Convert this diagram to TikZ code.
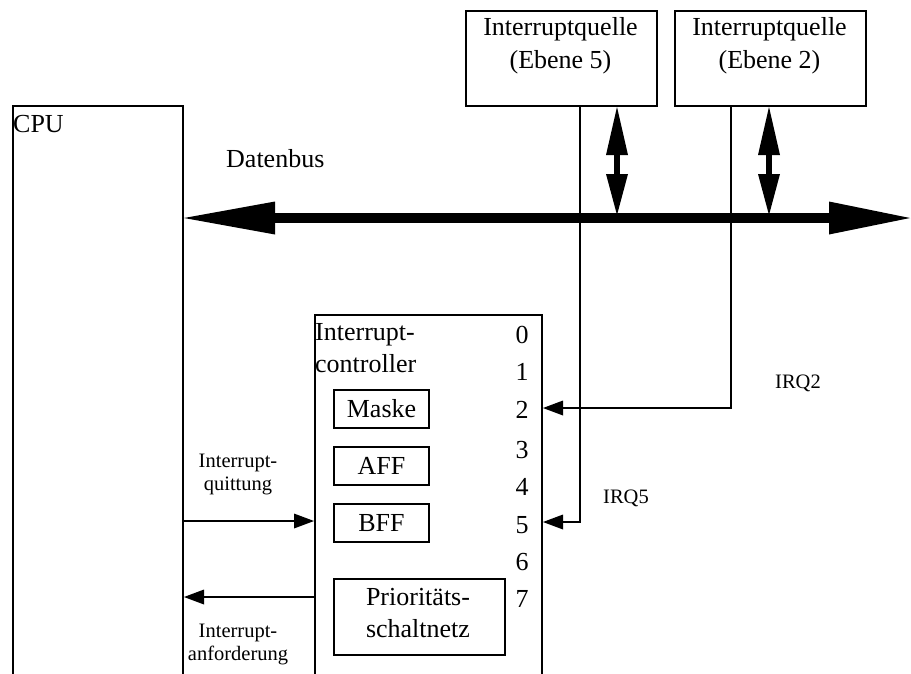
\documentclass[tikz,border=0pt]{standalone}
\usepackage{fontspec}
\setmainfont{Liberation Serif}
\usetikzlibrary{arrows.meta,calc}
\begin{document}
\begin{tikzpicture}[x=1pt,y=-1pt,
  box/.style={draw, line width=2pt, inner sep=0pt, anchor=north west},
  big/.style={font=\fontsize{26}{33}\selectfont, inner sep=0pt},
  small/.style={font=\fontsize{20.5}{23}\selectfont, inner sep=0pt},
  wire/.style={line width=2pt},
  sig/.style={wire, -{Triangle[length=20pt,width=15pt,line width=0pt]}},
  bus/.style={line width=10pt,
    {Triangle[length=91pt,width=33pt,line width=0pt]}-{Triangle[length=81pt,width=33pt,line width=0pt]}},
  tap/.style={line width=6pt,
    {Triangle[length=48pt,width=22pt,line width=0pt]}-{Triangle[length=41pt,width=22pt,line width=0pt]}}
]
\useasboundingbox (0,0) rectangle (911,673);
\clip (0,0) rectangle (911,673);

% blocks
\node[box, minimum width=170pt, minimum height=600pt] (cpu) at (12,105) {};
\node[box, minimum width=227pt, minimum height=400pt] (ctrl) at (314,314) {};
\node[box, minimum width=191pt, minimum height=95pt] (q5) at (465,10) {};
\node[box, minimum width=191pt, minimum height=95pt] (q2) at (674,10) {};
\node[box, big, minimum width=95pt, minimum height=38pt] (maske) at (333,389) {Maske};
\node[box, big, minimum width=95pt, minimum height=38pt] (aff) at (333,446) {AFF};
\node[box, big, minimum width=95pt, minimum height=38pt] (bff) at (333,503) {BFF};
\node[box, minimum width=171pt, minimum height=76pt] (prio) at (333,578) {};

% texts
\node[big, anchor=base west] (cputxt) at (13,132) {CPU};
\node[big, anchor=base west] (bustxt) at (226,167) {Datenbus};
\node[big, anchor=base] (q5a) at (560.5,35) {Interruptquelle};
\node[big, anchor=base] (q5b) at (560.5,68) {(Ebene 5)};
\node[big, anchor=base] (q2a) at (769.5,35) {Interruptquelle};
\node[big, anchor=base] (q2b) at (769.5,68) {(Ebene 2)};
\node[big, anchor=base west] (ctrla) at (315,340) {Interrupt-};
\node[big, anchor=base west] (ctrlb) at (315,372) {controller};
\node[big, anchor=base] (prioa) at (418,605) {Prioritäts-};
\node[big, anchor=base] (priob) at (418,637) {schaltnetz};
\foreach \d/\yb in {0/343,1/380,2/418,3/458,4/495,5/533,6/570,7/607}
  \node[big, anchor=base] (n\d) at (522,\yb) {\d};
\node[small, anchor=base west] (irq2txt) at (775,388) {IRQ2};
\node[small, anchor=base west] (irq5txt) at (603,503) {IRQ5};
\node[small, anchor=base] (qa) at (238,467) {Interrupt-};
\node[small, anchor=base] (qb) at (238,490) {quittung};
\node[small, anchor=base] (aa) at (238,637) {Interrupt-};
\node[small, anchor=base] (ab) at (238,660) {anforderung};

% connection points
\coordinate (busL) at ($(cpu.north east)+(0,113)$);
\coordinate (busR) at (910,218);
\coordinate (in2) at ($(ctrl.north east)+(0,94)$);
\coordinate (in5) at ($(ctrl.north east)+(0,208)$);
\coordinate (ack) at ($(cpu.north east)+(0,416)$);
\coordinate (req) at ($(ctrl.north west)+(0,283)$);

% data bus and the taps of both sources
\draw[bus] (busL) -- (busR);
\draw[tap] ($(q5.south west)+(152,0)$) -- ($(q5.south west)+(152,108)$);
\draw[tap] ($(q2.south west)+(95,0)$) -- ($(q2.south west)+(95,108)$);

% interrupt request lines
\draw[sig] ($(q5.south west)+(115,0)$) |- (in5);
\draw[sig] ($(q2.south west)+(57,0)$) |- (in2);

% handshake between CPU and controller
\draw[sig] (ack) -- (ack -| ctrl.west);
\draw[sig] (req) -- (req -| cpu.east);
\end{tikzpicture}
\end{document}
